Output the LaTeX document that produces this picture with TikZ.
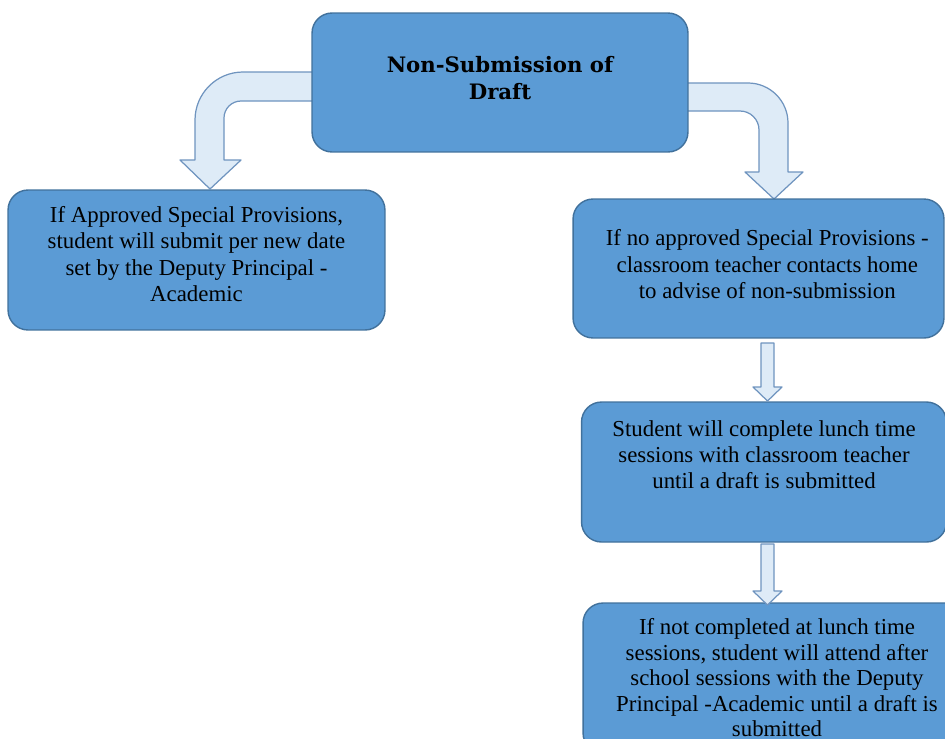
\documentclass[tikz,border=0pt]{standalone}
\usepackage{fontspec}
\setmainfont{Liberation Serif}
\newfontfamily\headfont{DejaVu Serif}
\usepackage{tikz}
\usetikzlibrary{positioning}
\definecolor{boxblue}{HTML}{5B9BD5}
\definecolor{boxline}{HTML}{41719C}
\definecolor{arrfill}{HTML}{DEEBF7}
\definecolor{arrline}{HTML}{6F94BF}

\begin{document}
\begin{tikzpicture}[x=0.02cm,y=-0.02cm,
  box/.style={draw=boxline,fill=boxblue,line width=0.8pt,rounded corners=0.4cm,align=center,
    font=\fontsize{13}{15}\selectfont},
  blockarrow/.style={draw=arrline,fill=arrfill,line width=0.7pt,line join=round}]
\useasboundingbox (0,0) rectangle (945,738);
\clip (0,0) rectangle (945,738);
% bent arrows behind the top box
\draw[blockarrow] (330,72) -- (243,72) arc[start angle=90,end angle=180,radius=0.96cm]
  -- (195,160) -- (180,160) -- (210,189) -- (241,160) -- (224,160) -- (224,118)
  arc[start angle=180,end angle=90,radius=0.34cm] -- (330,101) -- cycle;
\draw[blockarrow] (670,83) -- (748,83) arc[start angle=90,end angle=0,radius=0.8cm]
  -- (788,172) -- (803,172) -- (774,199) -- (745,172) -- (759,172) -- (759,130)
  arc[start angle=0,end angle=90,radius=0.38cm] -- (670,111) -- cycle;
\node[box,minimum width=7.52cm,minimum height=2.78cm,font=\headfont\bfseries\fontsize{12.1}{15.5}\selectfont] (head) at (500,82.5) {Non-Submission of\\Draft\\[-10pt]};
\node[box,minimum width=7.54cm,minimum height=2.8cm] (approved) at (196.5,260) {If Approved Special Provisions,\\student will submit per new date\\set by the Deputy Principal -\\Academic\\[-8pt]};
\node[box,minimum width=7.42cm,minimum height=2.78cm] (noprov) at (758.5,268.5) {\hspace*{10pt}If no approved Special Provisions -\\\hspace*{10pt}classroom teacher contacts home\\\hspace*{10pt}to advise of non-submission\\[-10pt]};
\node[box,minimum width=7.3cm,minimum height=2.8cm] (lunch) at (764,472) {Student will complete lunch time\\sessions with classroom teacher\\until a draft is submitted\\[5pt]};
\node[box,minimum width=7.76cm,minimum height=3cm,font=\fontsize{13}{14.5}\selectfont] (after) at (777,678) {If not completed at lunch time\\sessions, student will attend after\\school sessions with the Deputy\\Principal -Academic until a draft is\\submitted};
% straight arrows down the right column
\foreach \ytop/\ytip in {343/401,544/605}
  \draw[blockarrow] (761,\ytop) -- (761,\ytip-14) -- (753,\ytip-14) -- (767.5,\ytip)
    -- (782,\ytip-14) -- (774,\ytip-14) -- (774,\ytop) -- cycle;
\end{tikzpicture}
\end{document}
